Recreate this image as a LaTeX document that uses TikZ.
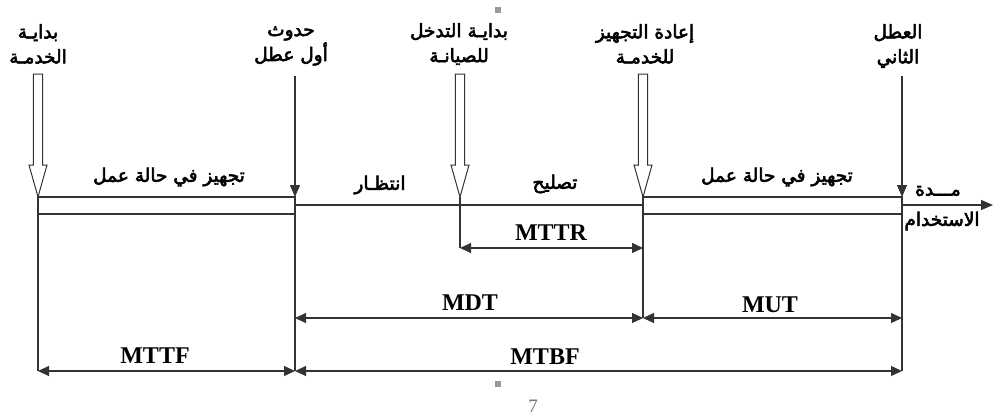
\documentclass[tikz,border=0pt]{standalone}
\usepackage{fontspec}
\setmainfont{Liberation Serif}
\newfontfamily\arabicfont[Script=Arabic,FakeBold=3]{DejaVu Sans}
\TeXXeTstate=1
\usetikzlibrary{arrows.meta}
\begin{document}
\begin{tikzpicture}[x=1pt,y=-1pt,
  ln/.style={draw=black!80,line width=1.1pt},
  dim/.style={ln,{Triangle[length=11pt,width=10pt]}-{Triangle[length=11pt,width=10pt]}},
  ar/.style={font=\arabicfont\fontsize{18.5}{25}\selectfont,align=center,inner sep=0pt},
  lat/.style={font=\bfseries\fontsize{24}{26}\selectfont,inner sep=0pt},
  hollow/.style={ln,fill=white,line width=1pt}]
\useasboundingbox (0,0) rectangle (1004,416);
% event coordinates
\coordinate (s) at (38,197);
\coordinate (f1) at (295,197);
\coordinate (r) at (460,197);
\coordinate (b) at (643,197);
\coordinate (f2) at (902,197);
\coordinate (end) at (993,205);
% timeline
\draw[ln] (38,197) rectangle (295,214);
\draw[ln] (295,205) -- (643,205);
\draw[ln] (643,197) rectangle (902,214);
\draw[ln,-{Triangle[length=12pt,width=10pt]}] (902,205) -- (end);
% vertical lines
\draw[ln] (s) -- (38,371);
\draw[ln,-{Triangle[length=12pt,width=10pt]}] (295,76) -- (f1);
\draw[ln] (f1) -- (295,371);
\draw[ln] (r) -- (460,248);
\draw[ln] (b) -- (643,318);
\draw[ln,-{Triangle[length=12pt,width=10pt]}] (902,76) -- (f2);
\draw[ln] (f2) -- (902,371);
% hollow arrows
\foreach \xx in {38,460,643}{
  \draw[hollow] (\xx-4.7,74) -- (\xx+4.7,74) -- (\xx+4.7,165) -- (\xx+9,165) -- (\xx,197) -- (\xx-9,165) -- (\xx-4.7,165) -- cycle;
}
% dimension arrows
\coordinate (mttrA) at (460,248); \coordinate (mttrB) at (643,248);
\coordinate (mdtA) at (295,318); \coordinate (mdtB) at (643,318);
\coordinate (mutB) at (902,318);
\coordinate (mttfA) at (38,371); \coordinate (mttfB) at (295,371);
\coordinate (mtbfB) at (902,371);
\draw[dim] (mttrA) -- (mttrB);
\draw[dim] (mdtA) -- (mdtB);
\draw[dim] (mdtB) -- (mutB);
\draw[dim] (mttfA) -- (mttfB);
\draw[dim] (mttfB) -- (mtbfB);
\node[lat] (lmttr) at (551,233) {MTTR};
\node[lat] (lmdt) at (470,303) {MDT};
\node[lat] (lmut) at (770,305) {MUT};
\node[lat] (lmttf) at (155,356) {MTTF};
\node[lat] (lmtbf) at (545,357) {MTBF};
% top labels
\node[ar] (t1) at (38,44) {\beginR بدايـة\endR\\\beginR الخدمـة\endR};
\node[ar] (t2) at (291,46) {\beginR حدوث\endR\\\beginR أول عطل\endR};
\node[ar] (t3) at (459,44) {\beginR بدايـة التدخل\endR\\\beginR للصيانـة\endR};
\node[ar] (t4) at (645,44) {\beginR إعادة التجهيز\endR\\\beginR للخدمـة\endR};
\node[ar] (t5) at (898,46) {\beginR العطل\endR\\\beginR الثاني\endR};
% state labels
\node[ar] (w1) at (169,177) {\beginR تجهيز في حالة عمل\endR};
\node[ar] (w2) at (777,177) {\beginR تجهيز في حالة عمل\endR};
\node[ar] (wait) at (380,185) {\beginR انتظـار\endR};
\node[ar] (rep) at (555,184) {\beginR تصليح\endR};
\node[ar] (u1) at (938,191) {\beginR مـــدة\endR};
\node[ar] (u2) at (942,221) {\beginR الاستخدام\endR};
% page artifacts
\fill[black!40] (495,7) rectangle (501,13);
\fill[black!40] (495,381) rectangle (501,387);
\node[text=black!55,font=\fontsize{19}{20}\selectfont,inner sep=0pt] (pg) at (533,406) {7};
\end{tikzpicture}
\end{document}
